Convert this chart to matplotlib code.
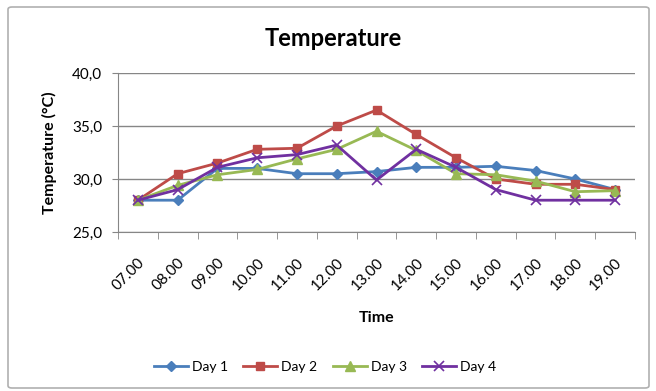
import numpy as np
import matplotlib.pyplot as plt
import matplotlib.transforms as mtransforms
from matplotlib.patches import FancyBboxPatch

plt.rcParams['font.family'] = ['Lato', 'DejaVu Sans']

hours = ['07.00', '08.00', '09.00', '10.00', '11.00', '12.00', '13.00',
         '14.00', '15.00', '16.00', '17.00', '18.00', '19.00']
day1 = [28.0, 28.0, 31.0, 31.0, 30.5, 30.5, 30.7, 31.1, 31.1, 31.2, 30.8, 30.0, 29.0]
day2 = [28.0, 30.5, 31.5, 32.8, 32.9, 35.0, 36.5, 34.2, 32.0, 30.0, 29.5, 29.5, 29.0]
day3 = [28.0, 29.4, 30.4, 30.9, 31.9, 32.8, 34.5, 32.7, 30.5, 30.4, 29.8, 28.8, 28.9]
day4 = [28.0, 29.0, 31.1, 32.0, 32.3, 33.2, 29.9, 32.8, 31.1, 29.0, 28.0, 28.0, 28.0]

fig = plt.figure(figsize=(6.56, 3.91), dpi=100)
ax = fig.add_axes([118/656, 1-232/391, (635-118)/656, (232-73)/391])

# chart frame
frame = FancyBboxPatch((8/656, 3/391), 641/656, 381/391, transform=fig.transFigure,
                       boxstyle='round,pad=0,rounding_size=0.006',
                       facecolor='none', edgecolor='#b0b0b0', linewidth=1.2)
fig.patches.append(frame)

x = np.arange(len(hours))
ax.plot(x, day1, color='#4a7ebb', marker='D', markersize=5, linewidth=2, label='Day 1')
ax.plot(x, day2, color='#be4b48', marker='s', markersize=6, linewidth=2, label='Day 2')
ax.plot(x, day3, color='#98b954', marker='^', markersize=7, linewidth=2, label='Day 3')
ax.plot(x, day4, color='#7030a0', marker='x', markersize=7, markeredgewidth=1.2,
        linewidth=2, label='Day 4')

ax.set_xlim(-0.5, len(hours) - 0.5)
ax.set_ylim(25, 40)
ax.set_yticks([25, 30, 35, 40])
ax.set_yticklabels(['25,0', '30,0', '35,0', '40,0'], fontsize=11)
ax.set_xticks(x)
ax.set_xticklabels(hours, rotation=45, fontsize=11, ha='right', va='top',
                   rotation_mode='anchor')
shift = mtransforms.ScaledTranslation(3/100, 0, fig.dpi_scale_trans)
for lab in ax.get_xticklabels():
    lab.set_transform(lab.get_transform() + shift)
ax.set_xticks(np.arange(-0.5, len(hours)), minor=True)
ax.tick_params(axis='x', which='major', length=0, pad=17)
ax.tick_params(axis='x', which='minor', length=5, color='#868686')
ax.tick_params(axis='y', length=4.5, color='#868686', pad=7)
ax.grid(axis='y', color='#868686', linewidth=1)
ax.set_axisbelow(True)
for side in ['top', 'right']:
    ax.spines[side].set_visible(False)
for side in ['left', 'bottom']:
    ax.spines[side].set_color('#868686')

ax.set_ylabel('Temperature (°C)', fontsize=11.5, fontweight='bold', labelpad=11)
ax.set_xlabel('Time', fontsize=11.5, fontweight='bold', labelpad=13)
fig.text(333/656, 1-38/391, 'Temperature', fontsize=17, fontweight='bold',
         ha='center', va='center')

fig.legend(loc='center', bbox_to_anchor=(325/656, 1-367/391), ncol=4, frameon=False,
           fontsize=10, handlelength=2.45, columnspacing=1.1, handletextpad=0.3)

fig.savefig('out.png', dpi=100)
